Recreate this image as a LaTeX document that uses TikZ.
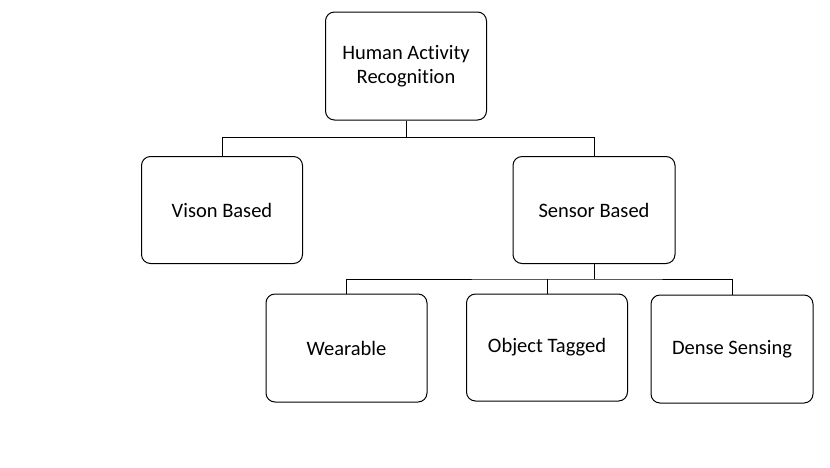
\documentclass[tikz,border=0pt]{standalone}
\usepackage{fontspec}
\setmainfont{Carlito}[Ligatures=NoCommon]
\begin{document}
\begin{tikzpicture}[x=1pt,y=-1pt,
  box/.style={draw, line width=1pt, rounded corners=9pt, align=center,
    font=\fontsize{20.5}{24}\selectfont, inner sep=0pt},
  link/.style={draw, line width=1pt}]
\useasboundingbox (0,0) rectangle (830,467);
\node[box, minimum width=161pt, minimum height=108pt] (har) at (406,66) {Human Activity\\Recognition};
\node[box, minimum width=161pt, minimum height=107pt] (vis) at (222,210) {Vison Based};
\node[box, minimum width=162pt, minimum height=107pt] (sen) at (594,210) {Sensor Based};
\node[box, minimum width=161pt, minimum height=108pt] (wea) at (346.5,348) {Wearable};
\node[box, minimum width=161pt, minimum height=107pt] (obj) at (547,347.5) {Object Tagged};
\node[box, minimum width=162pt, minimum height=108pt] (den) at (732,349) {Dense Sensing};
\coordinate (j1) at (406,137.5);
\coordinate (j2) at (594,279);
\draw[link] (har.south) -- (j1);
\draw[link] (vis.north) |- (j1) -| (sen.north);
\draw[link] (sen.south) -- (j2);
\draw[link] (wea.north) |- (j2) -| (den.north);
\draw[link] (obj.north) -- (obj.north |- j2);
\end{tikzpicture}
\end{document}
